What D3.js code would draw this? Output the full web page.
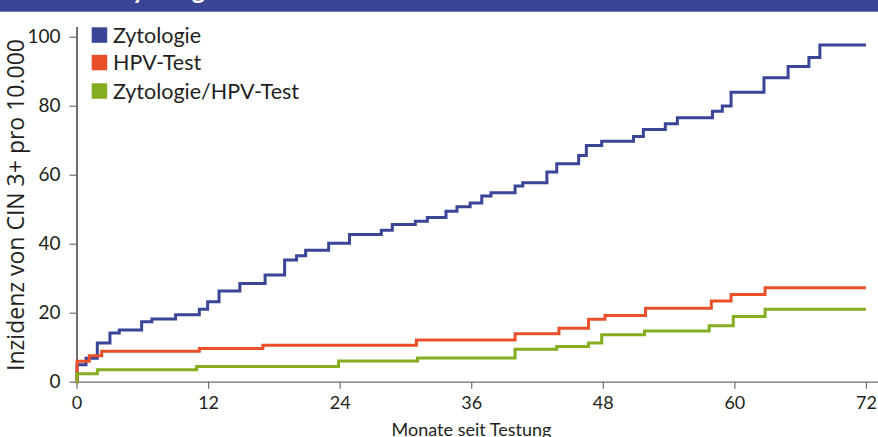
<!DOCTYPE html>
<html>
<head>
<meta charset="utf-8">
<script src="https://cdn.jsdelivr.net/npm/d3@7"></script>
<style>
  html, body { margin: 0; padding: 0; background: #fff; }
  svg { display: block; }
  text { font-family: Lato, "Open Sans", sans-serif; fill: #231f20; }
</style>
</head>
<body>
<svg id="chart" width="878" height="437"></svg>
<script>
// ---- data ----
const seriesNames = ["Zytologie", "HPV-Test", "Zytologie/HPV-Test"];
const seriesColors = ["#3b4598", "#e9502a", "#84ad1f"];
const xTicks = [0, 12, 24, 36, 48, 60, 72];
const yTicks = [0, 20, 40, 60, 80, 100];
const bannerTitle = "Zytologie";
const xLabel = "Monate seit Testung";
const yLabel = "Inzidenz von CIN 3+ pro 10.000";

const zytologie = [
  [0,0],[0.05,4.9],[0.87,6.8],[1.9,11.2],[3.05,14.1],[3.9,15.0],[5.94,17.4],[6.88,18.2],
  [9.04,19.4],[11.2,21.0],[11.96,23.2],[13.0,26.3],[14.9,28.5],[17.2,30.9],[18.98,35.3],
  [20.07,36.5],[20.9,38.1],[23.0,40.1],[24.9,42.7],[27.8,43.9],[28.8,45.6],[30.9,46.5],
  [32.0,47.6],[33.7,49.4],[34.7,50.7],[35.9,51.8],[36.96,53.8],[37.8,54.8],[40.0,56.7],
  [40.7,57.7],[42.9,60.8],[43.8,63.2],[45.8,65.6],[46.5,68.5],[47.9,69.7],[50.8,71.1],
  [51.7,73.1],[53.7,74.8],[54.8,76.5],[58.0,78.4],[58.9,79.9],[59.7,83.9],[62.7,88.1],
  [64.9,91.4],[66.8,94.0],[67.8,97.6],[72,97.6]
];
const hpvTest = [
  [0,0],[0.05,5.9],[1.17,7.5],[2.3,8.8],[11.2,9.6],[17.0,10.6],[31.0,12.1],[40.0,13.9],
  [44.0,15.5],[46.7,18.1],[48.2,19.2],[51.9,21.3],[57.9,23.4],[59.7,25.3],[62.8,27.2],[72,27.2]
];
const kombi = [
  [0,0],[0.05,2.3],[1.9,3.5],[10.96,4.4],[23.9,6.0],[31.1,6.9],[40.0,9.4],[43.8,10.2],
  [46.7,11.2],[47.9,13.6],[51.8,14.7],[57.7,16.2],[59.9,18.9],[62.8,21.0],[72,21.0]
];
const allSeries = [zytologie, hpvTest, kombi];

// ---- layout ----
const svg = d3.select("#chart");
const x = d3.scaleLinear().domain([0, 73.1]).range([76.5, 878]);
const y = d3.scaleLinear().domain([0, 103]).range([381.7, 26.4]);

// banner (title mostly cut off above the picture, as in the reference)
svg.append("rect").attr("x", 0).attr("y", 0).attr("width", 878).attr("height", 11.7)
  .attr("fill", "#3a4494");
svg.append("text").attr("x", 117).attr("y", -1.5)
  .style("font-size", "26px").style("font-weight", "bold").style("fill", "#fff")
  .text(bannerTitle);

// x axis
const xAxis = svg.append("g").attr("transform", `translate(0,${y(0)})`)
  .call(d3.axisBottom(x).tickValues(xTicks).tickSize(7).tickSizeOuter(0));
xAxis.select(".domain").attr("stroke", "#6d6e70").attr("stroke-width", 1.3);
xAxis.selectAll(".tick line").attr("stroke", "#6d6e70").attr("stroke-width", 1.2);
xAxis.selectAll(".tick text").attr("y", 27).attr("dy", 0)
  .style("font-size", "18px").style("font-family", "Lato, sans-serif").attr("fill", "#231f20");

// y axis
const yAxis = svg.append("g").attr("transform", `translate(${x(0)},0)`)
  .call(d3.axisLeft(y).tickValues(yTicks).tickSize(7).tickPadding(9).tickSizeOuter(0));
yAxis.select(".domain").attr("stroke", "#231f20").attr("stroke-width", 1.3);
yAxis.selectAll(".tick line").attr("stroke", "#6d6e70").attr("stroke-width", 1.2);
yAxis.selectAll(".tick text")
  .style("font-size", "19px").style("font-family", "Lato, sans-serif").attr("fill", "#231f20");

// lines
const line = d3.line().x(d => x(d[0])).y(d => y(d[1])).curve(d3.curveStepAfter);
allSeries.forEach((s, i) => {
  svg.append("path").datum(s).attr("d", line)
    .attr("fill", "none").attr("stroke", seriesColors[i]).attr("stroke-width", 3)
    .attr("stroke-linejoin", "miter");
});

// legend
const legendTops = [27.3, 54.8, 83.3];
seriesNames.forEach((name, i) => {
  svg.append("rect").attr("x", 91.7).attr("y", legendTops[i]).attr("width", 15.5).attr("height", 15.5)
    .attr("fill", seriesColors[i]);
  svg.append("text").attr("x", 113).attr("y", legendTops[i] + 15.3)
    .style("font-size", "21.5px").text(name);
});

// axis labels
svg.append("text").attr("x", 471.5).attr("y", 436).attr("text-anchor", "middle")
  .style("font-size", "18px").text(xLabel);
svg.append("text").attr("transform", "translate(23.5,205) rotate(-90)").attr("text-anchor", "middle")
  .style("font-size", "23px").style("font-family", "'Open Sans', sans-serif").text(yLabel);
</script>
</body>
</html>
